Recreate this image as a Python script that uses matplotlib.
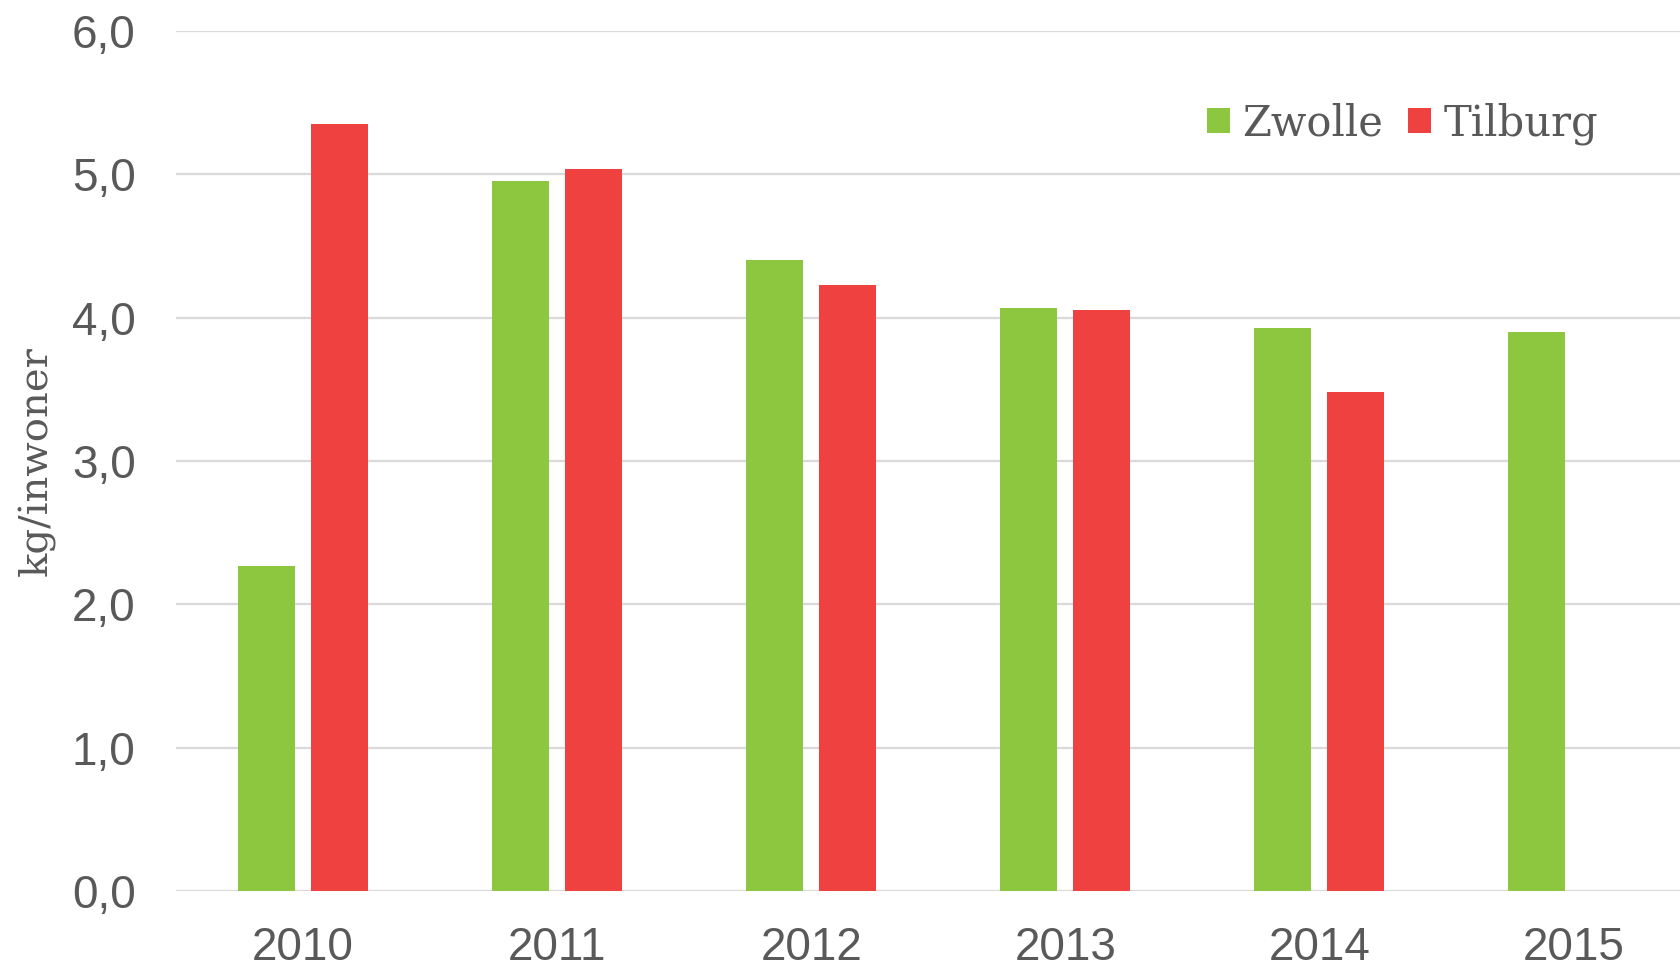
import matplotlib
matplotlib.use("Agg")
import matplotlib.pyplot as plt
import numpy as np

years = ["2010", "2011", "2012", "2013", "2014", "2015"]
zwolle = [2.27, 4.95, 4.40, 4.07, 3.93, 3.90]
tilburg = [5.35, 5.04, 4.23, 4.05, 3.48, np.nan]
yticks = [0, 1, 2, 3, 4, 5, 6]
ytick_labels = ["0,0", "1,0", "2,0", "3,0", "4,0", "5,0", "6,0"]

GREEN = "#8DC63F"
RED = "#EF4140"
TEXT = "#595959"
GRID = "#D9D9D9"

fig = plt.figure(figsize=(16.81, 9.68), dpi=100)
ax = fig.add_axes([0.1047, 0.0795, 0.9068, 0.8885])

x = np.arange(len(years))
w = 0.2237
off = 0.1433
ax.bar(x - off, zwolle, width=w, color=GREEN, label="Zwolle", zorder=3)
ax.bar(x + off, tilburg, width=w, color=RED, label="Tilburg", zorder=3)

ax.set_xlim(-0.5, len(years) - 0.5)
ax.set_ylim(0, 6)
ax.set_yticks(yticks)
ax.set_yticklabels(ytick_labels)
ax.set_xticks(x)
ax.set_xticklabels(years)

for s in ax.spines.values():
    s.set_visible(False)
ax.yaxis.grid(True, color=GRID, linewidth=1.6, zorder=0)
ax.set_axisbelow(True)
ax.tick_params(axis="both", length=0, colors=TEXT, labelsize=33)
ax.tick_params(axis="y", pad=29)
ax.tick_params(axis="x", pad=25)
for lab in ax.get_xticklabels() + ax.get_yticklabels():
    lab.set_family(["Liberation Sans", "DejaVu Sans"])
    lab.set_color(TEXT)

fig.text(0.022, 0.5238, "kg/inwoner", rotation=90, ha="center", va="center",
         fontsize=29, color=TEXT, family=["DejaVu Serif"])

leg = ax.legend(loc="center right", bbox_to_anchor=(0.951, 0.872),
                bbox_transform=fig.transFigure, ncol=2, frameon=False,
                borderaxespad=0, borderpad=0,
                prop={"family": "DejaVu Serif", "size": 30},
                handlelength=0.55, handleheight=0.55, handletextpad=0.3,
                columnspacing=0.6, labelcolor=TEXT)

fig.savefig("out.png", dpi=100, facecolor="white")
